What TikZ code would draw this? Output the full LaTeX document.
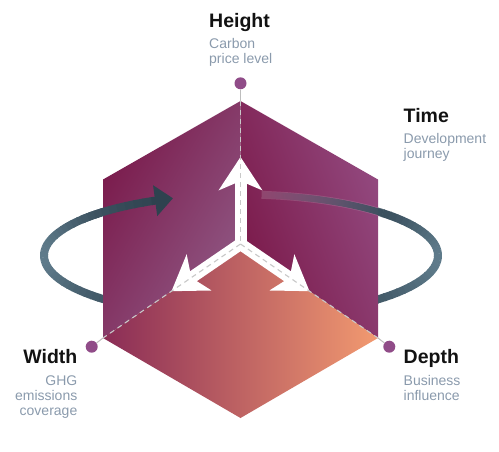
\documentclass[tikz,border=0pt]{standalone}
\usepackage{fontspec}
\setmainfont{Liberation Sans}
\usetikzlibrary{arrows.meta,fadings}
\definecolor{lA}{HTML}{7A1A4B}
\definecolor{lB}{HTML}{905985}
\definecolor{rA}{HTML}{7A1848}
\definecolor{rB}{HTML}{934A80}
\definecolor{bA}{HTML}{8A2C56}
\definecolor{bM}{HTML}{C46E67}
\definecolor{bC}{HTML}{F29A70}
\definecolor{ringD}{HTML}{2E424F}
\definecolor{ringL}{HTML}{5E7A8A}
\definecolor{dotc}{HTML}{904C88}
\definecolor{connc}{HTML}{BDBDBD}
\definecolor{dashc}{HTML}{C8C8C8}
\definecolor{ttlc}{HTML}{121212}
\definecolor{subc}{HTML}{8A9AAC}
\tikzfading[name=ribfade, left color=transparent!100, middle color=transparent!35, right color=transparent!0]
\begin{document}
\begin{tikzpicture}[x=1pt,y=-1pt,
  ttl/.style={font=\fontsize{19.5}{20}\selectfont\bfseries, text=ttlc, inner sep=0pt},
  sub/.style={font=\fontsize{14}{15}\selectfont, text=subc, inner sep=0pt},
  dotnode/.style={circle, fill=dotc, minimum size=12pt, inner sep=0pt},
  conn/.style={connc, line width=1pt},
  dashline/.style={dashc, line width=1.1pt, dash pattern=on 5pt off 4pt},
  warrow/.style={white, line width=12pt, line join=miter},
  ringseg/.style={line width=8pt}]
\useasboundingbox (0,0) rectangle (499,451);
% cube corners
\coordinate (T) at (240.5,101);
\coordinate (UL) at (103,179.5);
\coordinate (LL) at (103,338);
\coordinate (B) at (240.5,418);
\coordinate (LR) at (378,338);
\coordinate (UR) at (378,179.5);
\coordinate (I) at (240.5,244);
% ring behind the cube
\foreach \t in {-50,-47,...,225}{
  \pgfmathsetmacro\p{min(100,100*(cos(\t))^4+max(0,25*sin(\t)))}
  \colorlet{rc}{ringL!\p!ringD}
  \draw[ringseg, rc] plot[domain=\t:\t+3.4, samples=3] ({241+197*cos(\x)},{255.5+61*sin(\x)});
}
% faces
\shade[left color=lA, right color=lB, shading angle=60] (T) -- (UL) -- (LL) -- (I) -- cycle;
\shade[left color=rA, right color=rB, shading angle=110] (T) -- (I) -- (LR) -- (UR) -- cycle;
\shade[left color=bA, middle color=bM, right color=bC] (I) -- (LL) -- (B) -- (LR) -- cycle;
% ring in front (left)
\foreach \t in {216,219,...,240}{
  \pgfmathsetmacro\p{min(100,100*(cos(\t))^4)}
  \colorlet{rc}{ringL!\p!ringD}
  \draw[ringseg, rc] plot[domain=\t:\t+3.4, samples=3] ({241+197*cos(\x)},{255.5+61*sin(\x)});
}
\coordinate (ra) at ({241+197*cos(243)},{255.5+61*sin(243)});
\coordinate (rb) at ({241+197*cos(249.8)},{255.5+61*sin(249.8)});
\draw[ringseg, ringD, -{Triangle[length=18pt,width=30pt]}] (ra) -- (rb);
% ring seen through the right face
\draw[white, opacity=0.15, line width=8pt] plot[domain=-84:-44, samples=20] ({241+197*cos(\x)},{255.5+61*sin(\x)});
\draw[ringL!25!ringD, line width=6.6pt, path fading=ribfade] plot[domain=-84:-44, samples=20] ({241+197*cos(\x)},{255.5+61*sin(\x)});
% white arrows
\coordinate (tipU) at (240.5,157);
\coordinate (tipL) at (171.5,291.2);
\coordinate (tipR) at (309.5,291.2);
\draw[warrow, {Stealth[length=33pt,width=43pt,inset=9pt]}-{Stealth[length=33pt,width=43pt,inset=9pt]}] (tipL) -- (I) -- (tipR);
\draw[warrow, -{Stealth[length=33pt,width=43pt,inset=9pt]}] (I) -- (tipU);
% dots and guide lines
\node[dotnode] (dotH) at (240.5,83.3) {};
\node[dotnode] (dotW) at (91.7,346.7) {};
\node[dotnode] (dotD) at (389.3,346.7) {};
\draw[conn] (dotH) -- (T);
\draw[conn] (dotW) -- (LL);
\draw[conn] (dotD) -- (LR);
\draw[dashline] (T) -- (I);
\draw[dashline] (I) -- (LL);
\draw[dashline] (I) -- (LR);
% labels
\node[ttl, anchor=base west] (hT) at (209,27) {Height};
\node[sub, anchor=base west] (hS1) at (209,48) {Carbon};
\node[sub, anchor=base west] (hS2) at (209,63) {price level};
\node[ttl, anchor=base west] (tT) at (403.5,122.5) {Time};
\node[sub, anchor=base west] (tS1) at (403.5,143.3) {Development};
\node[sub, anchor=base west] (tS2) at (403.5,158.3) {journey};
\node[ttl, anchor=base east] (wT) at (77.5,363.5) {Width};
\node[sub, anchor=base east] (wS1) at (77.5,385.7) {GHG};
\node[sub, anchor=base east] (wS2) at (77.5,400.7) {emissions};
\node[sub, anchor=base east] (wS3) at (77.5,415.5) {coverage};
\node[ttl, anchor=base west] (dT) at (403.5,363.5) {Depth};
\node[sub, anchor=base west] (dS1) at (403.5,385.7) {Business};
\node[sub, anchor=base west] (dS2) at (403.5,400.7) {influence};
\end{tikzpicture}
\end{document}
